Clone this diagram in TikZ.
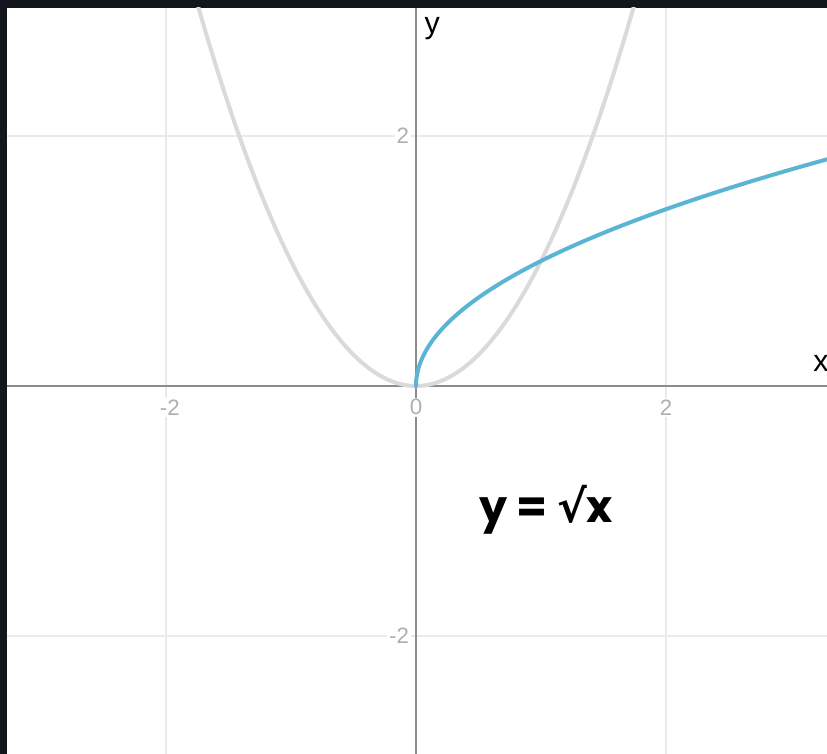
\documentclass[tikz,border=0pt]{standalone}
\usepackage{fontspec}
\setmainfont{Liberation Sans}
\newfontfamily\eqfont{Poppins}
\newfontfamily\symfont{DejaVu Sans}
\definecolor{darkBg}{RGB}{20,22,30}
\definecolor{gridGray}{RGB}{234,234,234}
\definecolor{axisGray}{RGB}{140,140,140}
\definecolor{tickGray}{RGB}{175,175,175}
\definecolor{paraGray}{RGB}{218,218,218}
\definecolor{rootBlue}{RGB}{92,180,212}

\begin{document}
\begin{tikzpicture}[
    x=3.75cm, y=3.75cm,
    gridline/.style={draw=gridGray, line width=1pt},
    axisline/.style={draw=axisGray, line width=1.4pt},
    ticklabel/.style={text=tickGray, fill=white, inner sep=1.5pt, font=\fontsize{19}{19}\selectfont},
    axislabel/.style={text=black, inner sep=0pt, font=\fontsize{26}{26}\selectfont},
    curve/.style={line width=3.4pt, line cap=round},
    eqlabel/.style={inner sep=0pt, font=\eqfont\bfseries\fontsize{38}{38}\selectfont}
]
    \useasboundingbox (-3.328,3.088) rectangle (3.288,-2.944);
    \fill[darkBg] (-3.328,3.088) rectangle (3.288,-2.944);
    \fill[white] (-3.272,3.024) rectangle (3.288,-2.944);

    \begin{scope}
        \clip (-3.272,3.024) rectangle (3.288,-2.944);
        % grid
        \foreach \v in {-2,2} {
            \draw[gridline] (\v,-2.944) -- (\v,3.024);
            \draw[gridline] (-3.272,\v) -- (3.288,\v);
        }
        % axes
        \draw[axisline] (-3.272,0) -- (3.288,0);
        \draw[axisline] (0,-2.944) -- (0,3.024);
        % curves
        \draw[curve, draw=paraGray, domain=-1.8:1.8, samples=120] plot (\x,{\x*\x});
        \draw[curve, draw=rootBlue, domain=0:1.83, samples=120] plot ({\x*\x},\x);
    \end{scope}

    % tick labels
    \node[ticklabel] (xm2) at (-1.97,-0.17) {-2};
    \node[ticklabel] (x0) at (0,-0.17) {0};
    \node[ticklabel] (xp2) at (2,-0.17) {2};
    \node[ticklabel, anchor=east] (yp2) at (-0.04,2) {2};
    \node[ticklabel, anchor=east] (ym2) at (-0.04,-2) {-2};

    % axis names
    \node[axislabel] (ylab) at (0.13,2.86) {y};
    \node[axislabel] (xlab) at (3.24,0.18) {x};

    \node[eqlabel] (eq) at (1.04,-0.99) {y = {\symfont\bfseries √}x};
\end{tikzpicture}
\end{document}
